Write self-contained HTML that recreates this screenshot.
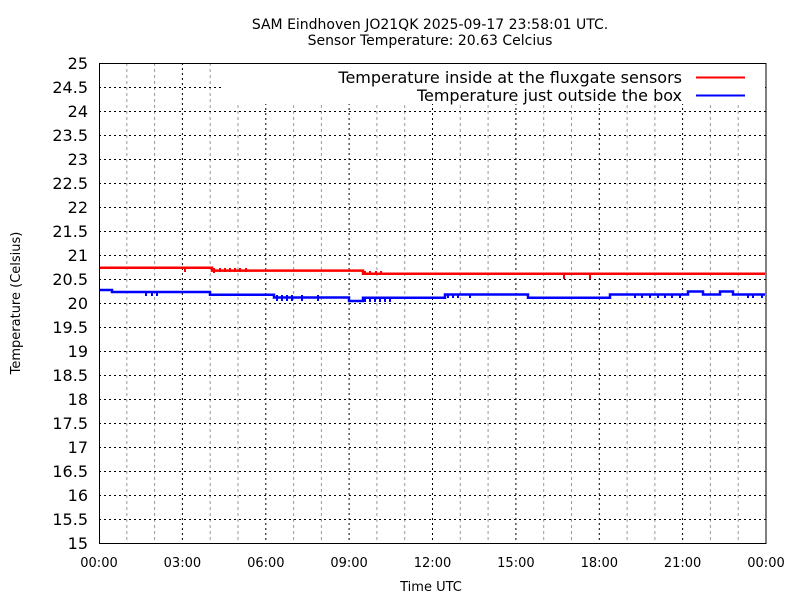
<!DOCTYPE html>
<html><head><meta charset="utf-8"><style>
body{margin:0;background:#fff;}
svg{display:block;font-family:"DejaVu Sans","Liberation Sans",sans-serif;}
</style></head><body>
<svg width="800" height="600" viewBox="0 0 800 600">
<rect width="800" height="600" fill="#fff"/>
<text x="430" y="29" font-size="14" text-anchor="middle">SAM Eindhoven JO21QK 2025-09-17 23:58:01 UTC.</text>
<text x="430" y="45" font-size="14" text-anchor="middle">Sensor Temperature: 20.63 Celcius</text>
<!-- minor vertical grid -->
<g stroke="#999" stroke-width="1" stroke-dasharray="3,3">
<line x1="126.8" y1="63" x2="126.8" y2="543"/><line x1="154.6" y1="63" x2="154.6" y2="543"/>
<line x1="210.2" y1="63" x2="210.2" y2="543"/><line x1="238" y1="63" x2="238" y2="543"/>
<line x1="293.6" y1="63" x2="293.6" y2="543"/><line x1="321.4" y1="63" x2="321.4" y2="543"/>
<line x1="376.9" y1="63" x2="376.9" y2="543"/><line x1="404.7" y1="63" x2="404.7" y2="543"/>
<line x1="460.3" y1="63" x2="460.3" y2="543"/><line x1="488.1" y1="63" x2="488.1" y2="543"/>
<line x1="543.7" y1="63" x2="543.7" y2="543"/><line x1="571.5" y1="63" x2="571.5" y2="543"/>
<line x1="627.1" y1="63" x2="627.1" y2="543"/><line x1="654.9" y1="63" x2="654.9" y2="543"/>
<line x1="710.4" y1="63" x2="710.4" y2="543"/><line x1="738.2" y1="63" x2="738.2" y2="543"/>
</g>
<g stroke="#000" stroke-width="1" stroke-dasharray="2,3">
<line x1="182.4" y1="63" x2="182.4" y2="543"/><line x1="265.8" y1="63" x2="265.8" y2="543"/>
<line x1="349.1" y1="63" x2="349.1" y2="543"/><line x1="432.5" y1="63" x2="432.5" y2="543"/>
<line x1="515.9" y1="63" x2="515.9" y2="543"/><line x1="599.3" y1="63" x2="599.3" y2="543"/>
<line x1="682.6" y1="63" x2="682.6" y2="543"/>
<line x1="99" y1="87.5" x2="766" y2="87.5"/><line x1="99" y1="111.5" x2="766" y2="111.5"/>
<line x1="99" y1="135.5" x2="766" y2="135.5"/><line x1="99" y1="159.5" x2="766" y2="159.5"/>
<line x1="99" y1="183.5" x2="766" y2="183.5"/><line x1="99" y1="207.5" x2="766" y2="207.5"/>
<line x1="99" y1="231.5" x2="766" y2="231.5"/><line x1="99" y1="255.5" x2="766" y2="255.5"/>
<line x1="99" y1="279.5" x2="766" y2="279.5"/><line x1="99" y1="303.5" x2="766" y2="303.5"/>
<line x1="99" y1="327.5" x2="766" y2="327.5"/><line x1="99" y1="351.5" x2="766" y2="351.5"/>
<line x1="99" y1="375.5" x2="766" y2="375.5"/><line x1="99" y1="399.5" x2="766" y2="399.5"/>
<line x1="99" y1="423.5" x2="766" y2="423.5"/><line x1="99" y1="447.5" x2="766" y2="447.5"/>
<line x1="99" y1="471.5" x2="766" y2="471.5"/><line x1="99" y1="495.5" x2="766" y2="495.5"/>
<line x1="99" y1="519.5" x2="766" y2="519.5"/>
</g>
<!-- legend box -->
<rect x="223" y="64" width="542" height="40" fill="#fff"/>
<text x="682" y="83" font-size="16" text-anchor="end">Temperature inside at the fluxgate sensors</text>
<line x1="696" y1="77.5" x2="745" y2="77.5" stroke="#f00" stroke-width="2"/>
<text x="682" y="101" font-size="16" text-anchor="end">Temperature just outside the box</text>
<line x1="696" y1="95.5" x2="745" y2="95.5" stroke="#00f" stroke-width="2"/>
<!-- axes -->
<rect x="99.5" y="63.5" width="666.5" height="480" fill="none" stroke="#000" stroke-width="1"/>
<g font-size="16" text-anchor="end">
<text x="88" y="69">25</text><text x="88" y="93">24.5</text><text x="88" y="117">24</text>
<text x="88" y="141">23.5</text><text x="88" y="165">23</text><text x="88" y="189">22.5</text>
<text x="88" y="213">22</text><text x="88" y="237">21.5</text><text x="88" y="261">21</text>
<text x="88" y="285">20.5</text><text x="88" y="309">20</text><text x="88" y="333">19.5</text>
<text x="88" y="357">19</text><text x="88" y="381">18.5</text><text x="88" y="405">18</text>
<text x="88" y="429">17.5</text><text x="88" y="453">17</text><text x="88" y="477">16.5</text>
<text x="88" y="501">16</text><text x="88" y="525">15.5</text><text x="88" y="549">15</text>
</g>
<g font-size="13" text-anchor="middle">
<text x="99" y="567">00:00</text><text x="182.4" y="567">03:00</text><text x="265.8" y="567">06:00</text>
<text x="349.1" y="567">09:00</text><text x="432.5" y="567">12:00</text><text x="515.9" y="567">15:00</text>
<text x="599.3" y="567">18:00</text><text x="682.6" y="567">21:00</text><text x="766" y="567">00:00</text>
<text x="431" y="591">Time UTC</text>
</g>
<text transform="translate(20,303) rotate(-90)" font-size="13" text-anchor="middle">Temperature (Celsius)</text>
<!-- red series -->
<polyline fill="none" stroke="#f00" stroke-width="2.5" points="100,267.7 212,267.7 212,270.6 363,270.6 363,273.8 765,273.8"/>
<g stroke="#f00" stroke-width="2">
<line x1="185" y1="268" x2="185" y2="272"/><line x1="214" y1="268" x2="214" y2="273"/>
<line x1="220" y1="268" x2="220" y2="272"/><line x1="225" y1="268" x2="225" y2="272"/>
<line x1="230" y1="268" x2="230" y2="272"/><line x1="235" y1="268" x2="235" y2="272"/>
<line x1="240" y1="268" x2="240" y2="272"/><line x1="246" y1="268" x2="246" y2="272"/>
<line x1="365" y1="271" x2="365" y2="275"/><line x1="370" y1="271" x2="370" y2="275"/>
<line x1="376" y1="271" x2="376" y2="275"/><line x1="381" y1="271" x2="381" y2="275"/>
<line x1="564" y1="274" x2="564" y2="279"/><line x1="590" y1="274" x2="590" y2="279"/>
</g>
<!-- blue series -->
<polyline fill="none" stroke="#00f" stroke-width="2.5" points="100,290 112,290 112,292 210,292 210,294.7 274,294.7 274,297.5 349,297.5 349,301 363,301 363,297.7 445,297.7 445,294.5 528,294.5 528,297.7 610,297.7 610,294.5 688,294.5 688,291.5 703,291.5 703,294.5 720,294.5 720,291.5 733,291.5 733,294.5 765,294.5"/>
<g stroke="#00f" stroke-width="2">
<line x1="146" y1="292" x2="146" y2="296"/><line x1="152" y1="292" x2="152" y2="296"/><line x1="157" y1="292" x2="157" y2="296"/>
<line x1="277" y1="295" x2="277" y2="301"/><line x1="282" y1="295" x2="282" y2="301"/><line x1="287" y1="295" x2="287" y2="301"/><line x1="292" y1="295" x2="292" y2="301"/><line x1="302" y1="295" x2="302" y2="301"/><line x1="318" y1="295" x2="318" y2="301"/>
<line x1="365" y1="297" x2="365" y2="302"/><line x1="370" y1="297" x2="370" y2="302"/><line x1="375" y1="297" x2="375" y2="302"/><line x1="380" y1="297" x2="380" y2="302"/><line x1="385" y1="297" x2="385" y2="302"/><line x1="390" y1="297" x2="390" y2="302"/>
<line x1="448" y1="294" x2="448" y2="298"/><line x1="453" y1="294" x2="453" y2="298"/><line x1="458" y1="294" x2="458" y2="298"/><line x1="470" y1="294" x2="470" y2="298"/>
<line x1="635" y1="294" x2="635" y2="298"/><line x1="642" y1="294" x2="642" y2="298"/><line x1="650" y1="294" x2="650" y2="298"/><line x1="658" y1="294" x2="658" y2="298"/><line x1="665" y1="294" x2="665" y2="298"/><line x1="672" y1="294" x2="672" y2="298"/><line x1="680" y1="294" x2="680" y2="298"/>
<line x1="748" y1="294" x2="748" y2="298"/><line x1="753" y1="294" x2="753" y2="298"/><line x1="762" y1="294" x2="762" y2="298"/>
</g>
</svg>
</body></html>
